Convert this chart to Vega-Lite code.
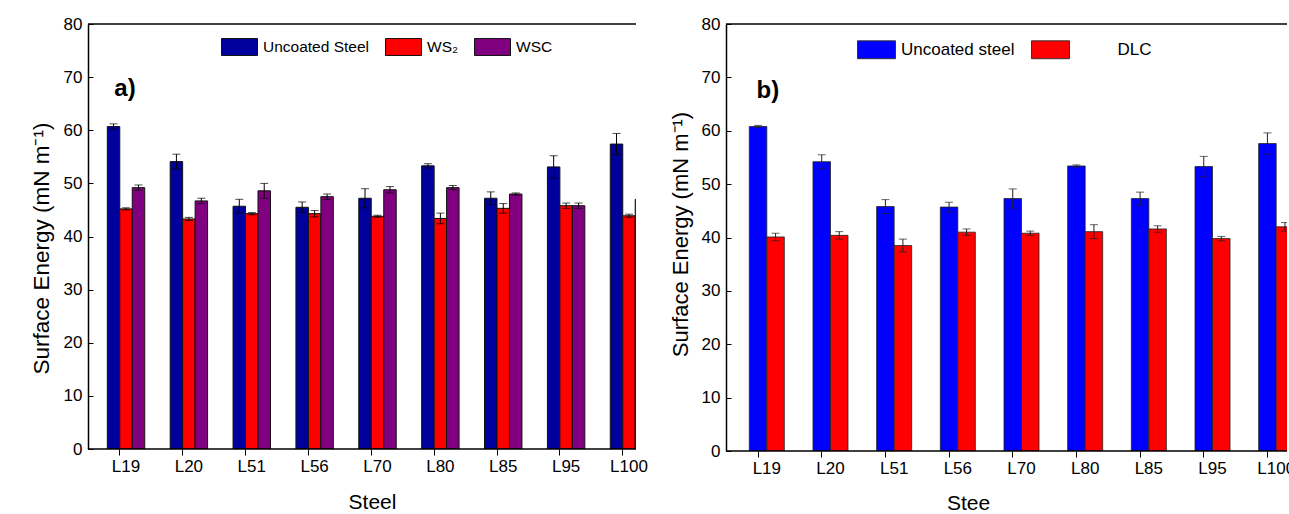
{
  "$schema": "https://vega.github.io/schema/vega-lite/v6.json",
  "background": "white",
  "padding": {"left": 30, "top": 15, "right": 0, "bottom": 0},
  "bounds": "flush",
  "spacing": 90,
  "config": {
    "font": "Liberation Sans",
    "view": {"stroke": null},
    "axis": {
      "labelColor": "black", "titleColor": "black", "domainColor": "black", "tickColor": "black",
      "labelFontSize": 17, "titleFontSize": 21, "titleFontWeight": "normal", "grid": false
    },
    "legend": {"labelColor": "black"}
  },
  "datasets": {
    "a": [
      {"steel": "L19", "series": "Uncoated Steel", "value": 60.7, "lo": 60.2, "hi": 61.2},
      {"steel": "L19", "series": "WS₂", "value": 45.2, "lo": 45.0, "hi": 45.4},
      {"steel": "L19", "series": "WSC", "value": 49.2, "lo": 48.7, "hi": 49.7},
      {"steel": "L20", "series": "Uncoated Steel", "value": 54.1, "lo": 52.7, "hi": 55.5},
      {"steel": "L20", "series": "WS₂", "value": 43.3, "lo": 43.0, "hi": 43.6},
      {"steel": "L20", "series": "WSC", "value": 46.7, "lo": 46.2, "hi": 47.2},
      {"steel": "L51", "series": "Uncoated Steel", "value": 45.7, "lo": 44.4, "hi": 47.0},
      {"steel": "L51", "series": "WS₂", "value": 44.3, "lo": 44.1, "hi": 44.5},
      {"steel": "L51", "series": "WSC", "value": 48.6, "lo": 47.2, "hi": 50.0},
      {"steel": "L56", "series": "Uncoated Steel", "value": 45.5, "lo": 44.5, "hi": 46.5},
      {"steel": "L56", "series": "WS₂", "value": 44.3, "lo": 43.7, "hi": 44.9},
      {"steel": "L56", "series": "WSC", "value": 47.5, "lo": 47.0, "hi": 48.0},
      {"steel": "L70", "series": "Uncoated Steel", "value": 47.2, "lo": 45.4, "hi": 49.0},
      {"steel": "L70", "series": "WS₂", "value": 43.8, "lo": 43.6, "hi": 44.0},
      {"steel": "L70", "series": "WSC", "value": 48.8, "lo": 48.2, "hi": 49.4},
      {"steel": "L80", "series": "Uncoated Steel", "value": 53.3, "lo": 52.9, "hi": 53.7},
      {"steel": "L80", "series": "WS₂", "value": 43.4, "lo": 42.4, "hi": 44.4},
      {"steel": "L80", "series": "WSC", "value": 49.2, "lo": 48.8, "hi": 49.6},
      {"steel": "L85", "series": "Uncoated Steel", "value": 47.2, "lo": 46.0, "hi": 48.4},
      {"steel": "L85", "series": "WS₂", "value": 45.3, "lo": 44.4, "hi": 46.2},
      {"steel": "L85", "series": "WSC", "value": 48.0, "lo": 47.8, "hi": 48.2},
      {"steel": "L95", "series": "Uncoated Steel", "value": 53.1, "lo": 51.0, "hi": 55.2},
      {"steel": "L95", "series": "WS₂", "value": 45.8, "lo": 45.3, "hi": 46.3},
      {"steel": "L95", "series": "WSC", "value": 45.8, "lo": 45.3, "hi": 46.3},
      {"steel": "L100", "series": "Uncoated Steel", "value": 57.4, "lo": 55.4, "hi": 59.4},
      {"steel": "L100", "series": "WS₂", "value": 43.9, "lo": 43.6, "hi": 44.2},
      {"steel": "L100", "series": "WSC", "value": 47.0, "lo": 46.5, "hi": 47.5}
    ],
    "b": [
      {"steel": "L19", "series": "Uncoated steel", "value": 60.8, "lo": 60.6, "hi": 61.0},
      {"steel": "L19", "series": "DLC", "value": 40.1, "lo": 39.4, "hi": 40.8},
      {"steel": "L20", "series": "Uncoated steel", "value": 54.2, "lo": 52.9, "hi": 55.5},
      {"steel": "L20", "series": "DLC", "value": 40.4, "lo": 39.7, "hi": 41.1},
      {"steel": "L51", "series": "Uncoated steel", "value": 45.8, "lo": 44.5, "hi": 47.1},
      {"steel": "L51", "series": "DLC", "value": 38.5, "lo": 37.3, "hi": 39.7},
      {"steel": "L56", "series": "Uncoated steel", "value": 45.7, "lo": 44.8, "hi": 46.6},
      {"steel": "L56", "series": "DLC", "value": 41.0, "lo": 40.4, "hi": 41.6},
      {"steel": "L70", "series": "Uncoated steel", "value": 47.3, "lo": 45.5, "hi": 49.1},
      {"steel": "L70", "series": "DLC", "value": 40.8, "lo": 40.4, "hi": 41.2},
      {"steel": "L80", "series": "Uncoated steel", "value": 53.4, "lo": 53.2, "hi": 53.6},
      {"steel": "L80", "series": "DLC", "value": 41.1, "lo": 39.8, "hi": 42.4},
      {"steel": "L85", "series": "Uncoated steel", "value": 47.3, "lo": 46.1, "hi": 48.5},
      {"steel": "L85", "series": "DLC", "value": 41.6, "lo": 41.0, "hi": 42.2},
      {"steel": "L95", "series": "Uncoated steel", "value": 53.3, "lo": 51.4, "hi": 55.2},
      {"steel": "L95", "series": "DLC", "value": 39.8, "lo": 39.4, "hi": 40.2},
      {"steel": "L100", "series": "Uncoated steel", "value": 57.6, "lo": 55.6, "hi": 59.6},
      {"steel": "L100", "series": "DLC", "value": 42.0, "lo": 41.2, "hi": 42.8}
    ]
  },
  "resolve": {"scale": {"color": "independent", "x": "independent", "y": "independent", "xOffset": "independent"}},
  "hconcat": [
    {
      "width": 548,
      "height": 425,
      "layer": [
        {
          "data": {"name": "a"},
          "mark": {"type": "bar", "stroke": "#111111", "strokeWidth": 1, "clip": true},
          "encoding": {
            "x": {"field": "steel", "type": "nominal", "title": "Steel",
              "scale": {"domain": ["L19","L20","L51","L56","L70","L80","L85","L95","L100"], "range": [0, 579], "paddingInner": 0.405, "paddingOuter": 0.307},
              "axis": {"labelAngle": 0, "domain": false, "tickSize": 6, "labelPadding": 3, "bandPosition": 0.334, "titleX": 284, "titlePadding": 17}},
            "xOffset": {"field": "series", "type": "nominal", "scale": {"domain": ["Uncoated Steel", "WS₂", "WSC"], "paddingInner": 0, "paddingOuter": 0}},
            "y": {"field": "value", "type": "quantitative", "title": "Surface Energy (mN m⁻¹)",
              "scale": {"domain": [0, 80], "nice": false},
              "axis": {"values": [0,5,10,15,20,25,30,35,40,45,50,55,60,65,70,75,80], "labelExpr": "datum.value % 10 === 0 ? datum.label : ''", "tickSize": -5, "domainWidth": 1.5, "labelPadding": 11, "titleFontSize": 22.5, "titlePadding": 10, "titleY": 224}},
            "color": {"field": "series", "type": "nominal",
              "scale": {"domain": ["Uncoated Steel", "WS₂", "WSC"], "range": ["#00009c", "#ff0000", "#800080"]},
              "legend": {"orient": "none", "legendX": 133, "legendY": 4.5, "direction": "horizontal", "title": null,
                "symbolType": "M-1,-0.47L1,-0.47L1,0.47L-1,0.47Z", "symbolSize": 1296, "symbolStrokeColor": "#111111", "symbolStrokeWidth": 1, "symbolOpacity": 1,
                "labelFontSize": 15.5, "labelOffset": 5, "columnPadding": 14}}
          }
        },
        {
          "data": {"name": "a"},
          "mark": {"type": "rule", "color": "black", "strokeWidth": 1, "clip": true},
          "encoding": {
            "x": {"field": "steel", "type": "nominal", "title": "Steel"},
            "xOffset": {"field": "series", "type": "nominal"},
            "y": {"field": "lo", "type": "quantitative", "title": "Surface Energy (mN m⁻¹)"},
            "y2": {"field": "hi"}
          }
        },
        {
          "data": {"name": "a"},
          "mark": {"type": "tick", "color": "black", "size": 8, "thickness": 1, "clip": true},
          "encoding": {
            "x": {"field": "steel", "type": "nominal", "title": "Steel"},
            "xOffset": {"field": "series", "type": "nominal"},
            "y": {"field": "hi", "type": "quantitative", "title": "Surface Energy (mN m⁻¹)"}
          }
        },
        {
          "data": {"name": "a"},
          "mark": {"type": "tick", "color": "black", "size": 8, "thickness": 1, "clip": true},
          "encoding": {
            "x": {"field": "steel", "type": "nominal", "title": "Steel"},
            "xOffset": {"field": "series", "type": "nominal"},
            "y": {"field": "lo", "type": "quantitative", "title": "Surface Energy (mN m⁻¹)"}
          }
        },
        {
          "data": {"values": [{"v": 0}, {"v": 80}]},
          "mark": {"type": "rule", "color": "black", "strokeWidth": 1.5},
          "encoding": {"y": {"field": "v", "type": "quantitative", "title": "Surface Energy (mN m⁻¹)"}}
        },
        {
          "data": {"values": [{"label": "a)", "steel": "L19", "v": 67.7}]},
          "mark": {"type": "text", "fontSize": 24, "fontWeight": "bold", "dx": -1, "color": "black", "font": "Liberation Sans"},
          "encoding": {
            "x": {"field": "steel", "type": "nominal", "title": "Steel"},
            "y": {"field": "v", "type": "quantitative", "title": "Surface Energy (mN m⁻¹)"},
            "text": {"field": "label"}
          }
        }
      ]
    },
    {
      "width": 561,
      "height": 427,
      "layer": [
        {
          "data": {"name": "b"},
          "mark": {"type": "bar", "stroke": "#222222", "strokeWidth": 0.8, "clip": true},
          "encoding": {
            "x": {"field": "steel", "type": "nominal", "title": "Stee",
              "scale": {"domain": ["L19","L20","L51","L56","L70","L80","L85","L95","L100"], "range": [0, 591], "paddingInner": 0.45, "paddingOuter": 0.366},
              "axis": {"labelAngle": 0, "domain": false, "tickSize": 6, "labelPadding": 3, "bandPosition": 0.25, "titleX": 242, "titlePadding": 16}},
            "xOffset": {"field": "series", "type": "nominal", "scale": {"domain": ["Uncoated steel", "DLC"], "paddingInner": 0, "paddingOuter": 0}},
            "y": {"field": "value", "type": "quantitative", "title": "Surface Energy (mN m⁻¹)",
              "scale": {"domain": [0, 80], "nice": false},
              "axis": {"values": [0,5,10,15,20,25,30,35,40,45,50,55,60,65,70,75,80], "labelExpr": "datum.value % 10 === 0 ? datum.label : ''", "tickSize": -5, "domainWidth": 1.5, "labelPadding": 11, "titleFontSize": 22, "titlePadding": 9, "titleY": 210}},
            "color": {"field": "series", "type": "nominal",
              "scale": {"domain": ["Uncoated steel", "DLC"], "range": ["#0000ff", "#ff0000"]},
              "legend": {"orient": "none", "legendX": 131, "legendY": 6, "direction": "horizontal", "title": null,
                "labelExpr": "datum.value == 'DLC' ? '\u200b\u2003\u2003\u2002DLC' : datum.label",
                "symbolType": "M-1,-0.47L1,-0.47L1,0.47L-1,0.47Z", "symbolSize": 1444, "symbolStrokeColor": "#333333", "symbolStrokeWidth": 1, "symbolOpacity": 1,
                "labelFontSize": 17, "labelOffset": 5, "columnPadding": 14}}
          }
        },
        {
          "data": {"name": "b"},
          "mark": {"type": "rule", "color": "#222222", "strokeWidth": 1, "clip": true},
          "encoding": {
            "x": {"field": "steel", "type": "nominal", "title": "Stee"},
            "xOffset": {"field": "series", "type": "nominal"},
            "y": {"field": "lo", "type": "quantitative", "title": "Surface Energy (mN m⁻¹)"},
            "y2": {"field": "hi"}
          }
        },
        {
          "data": {"name": "b"},
          "mark": {"type": "tick", "color": "#222222", "size": 8, "thickness": 1, "clip": true},
          "encoding": {
            "x": {"field": "steel", "type": "nominal", "title": "Stee"},
            "xOffset": {"field": "series", "type": "nominal"},
            "y": {"field": "hi", "type": "quantitative", "title": "Surface Energy (mN m⁻¹)"}
          }
        },
        {
          "data": {"name": "b"},
          "mark": {"type": "tick", "color": "#222222", "size": 8, "thickness": 1, "clip": true},
          "encoding": {
            "x": {"field": "steel", "type": "nominal", "title": "Stee"},
            "xOffset": {"field": "series", "type": "nominal"},
            "y": {"field": "lo", "type": "quantitative", "title": "Surface Energy (mN m⁻¹)"}
          }
        },
        {
          "data": {"values": [{"v": 0}, {"v": 80}]},
          "mark": {"type": "rule", "color": "black", "strokeWidth": 1.5},
          "encoding": {"y": {"field": "v", "type": "quantitative", "title": "Surface Energy (mN m⁻¹)"}}
        },
        {
          "data": {"values": [{"label": "b)", "steel": "L19", "v": 67.5}]},
          "mark": {"type": "text", "fontSize": 24, "fontWeight": "bold", "dx": 1, "color": "black", "font": "Liberation Sans"},
          "encoding": {
            "x": {"field": "steel", "type": "nominal", "title": "Stee"},
            "y": {"field": "v", "type": "quantitative", "title": "Surface Energy (mN m⁻¹)"},
            "text": {"field": "label"}
          }
        }
      ]
    }
  ]
}
